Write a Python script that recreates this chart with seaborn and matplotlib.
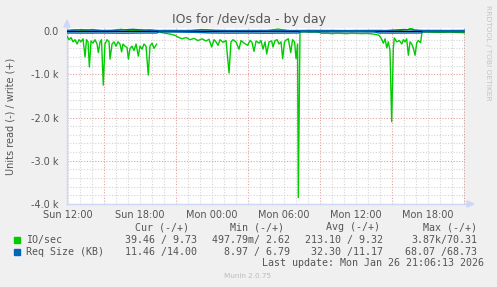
import numpy as np
import pandas as pd
import matplotlib
matplotlib.use("Agg")
import matplotlib.pyplot as plt
import matplotlib.dates as mdates
from matplotlib.patches import Rectangle, Polygon
import seaborn as sns

# ---------------- data (hours after Sun 25 Jan 2026 12:00) ----------------
read_io_hours = [-0.08, 0.08, 0.25, 0.42, 0.58, 0.75, 0.92, 1.08, 1.25, 1.42, 1.54, 1.67, 1.78, 1.92,
                 2.08, 2.25, 2.42, 2.53, 2.67, 2.79, 2.94, 3.08, 3.25, 3.42, 3.5, 3.67, 3.83, 4.0,
                 4.17, 4.33, 4.47, 4.58, 4.75, 4.92, 5.03, 5.17, 5.33, 5.5, 5.67, 5.86, 6.0, 6.17,
                 6.33, 6.5, 6.69, 6.83, 7.0, 7.17, 7.39, 7.5, 7.67, 8.08, 8.5, 8.92, 9.17, 9.5,
                 9.83, 10.17, 10.5, 10.83, 11.17, 11.5, 11.75, 11.97, 12.17, 12.33, 12.5, 12.67,
                 12.92, 13.17, 13.42, 13.58, 13.75, 14.0, 14.25, 14.42, 14.67, 14.97, 15.17, 15.33,
                 15.5, 15.67, 15.92, 16.08, 16.25, 16.42, 16.56, 16.75, 16.97, 17.08, 17.25, 17.42,
                 17.58, 17.75, 17.89, 18.04, 18.21, 18.36, 18.56, 18.71, 18.88, 19.0, 19.13, 19.19,
                 19.33, 19.75, 20.17, 20.58, 20.92, 21.17, 21.58, 22.0, 22.42, 22.83, 23.25, 23.67,
                 24.08, 24.5, 24.92, 25.33, 25.67, 25.92, 26.08, 26.28, 26.42, 26.56, 26.69, 26.83,
                 26.97, 27.11, 27.19, 27.39, 27.61, 27.81, 27.94, 28.08, 28.22, 28.36, 28.5, 28.64,
                 28.78, 28.92, 29.06, 29.19, 29.38, 29.5, 30.17, 31.0, 31.83, 32.67, 33.08]
read_io = [-120, -200, -150, -250, -200, -300, -200, -250, -180, -600, -200, -250, -830, -230,
           -280, -200, -300, -500, -250, -200, -1250, -300, -200, -250, -650, -300, -250, -350,
           -250, -300, -480, -300, -350, -380, -650, -400, -350, -450, -300, -580, -350, -420,
           -300, -350, -1020, -350, -280, -400, -300, np.nan, -30, -50, -70, -100, -140, -180,
           -150, -200, -170, -220, -180, -230, -190, -370, -200, -250, -330, -200,
           -260, -220, -970, -250, -200, -250, -420, -220, -280, -330, -220, -260,
           -470, -230, -280, -220, -420, -250, -530, -250, -230, -370, -220, -200,
           -300, -250, -640, -250, -200, -180, -500, -200, -250, -640, -300, -3850,
           -20, -15, -25, -20, -30, -55, -50, -60, -50, -55, -60, -50,
           -55, -60, -55, -65, -80, -100, -160, -280, -180, -390, -250, -450,
           -2095, -400, -160, -250, -220, -300, -200, -250, -180, -560, -250, -300,
           -400, -560, -270, -220, -270, -20, -25, -30, -25, -35, -40]

write_io_hours = [-0.08, 0.6, 1.4, 2.0, 2.9, 3.6, 4.4, 5.2, 6.0, 6.8, 7.6, 8.5, 9.4, 10.3, 11.2,
                  12.1, 13.0, 13.9, 14.8, 15.7, 16.6, 17.5, 18.4, 19.3, 20.2, 21.1, 22.0, 22.9,
                  23.8, 24.7, 25.6, 26.5, 27.4, 28.3, 28.6, 28.9, 29.8, 30.7, 31.6, 32.5, 33.08]
write_io = [8, 30, 10, 35, 9, 12, 40, 8, 10, 30, 9, 11, 8, 10, 35,
            9, 12, 8, 10, 9, 11, 45, 9, 8, 10, 9, 11, 8,
            10, 9, 12, 9, 11, 30, 70, 10, 9, 12, 8, 10, 10]

read_size_hours = [-0.08, 1.5, 3.0, 4.5, 6.0, 7.4, 7.6, 9.0, 10.5, 12.0, 13.5, 15.0, 16.5, 18.0,
                   19.2, 19.4, 21.0, 22.5, 24.0, 25.5, 25.9, 27.0, 28.5, 29.4, 29.6, 31.0, 32.5, 33.08]
read_size = [-45, -48, -46, -50, -47, -45, -20, -22, -30, -45, -48, -46, -50, -47,
             -45, -15, -18, -16, -15, -18, -45, -48, -46, -45, -15, -12, -14, -11]

write_size_hours = [-0.08, 1.2, 2.6, 4.0, 5.4, 7.0, 8.5, 10.0, 11.5, 13.0, 14.5, 16.0, 17.5,
                    19.0, 20.5, 22.0, 23.5, 25.0, 26.5, 28.0, 29.5, 31.0, 32.5, 33.08]
write_size = [12, 30, 12, 14, 40, 11, 13, 12, 25, 11, 12, 13, 11,
              12, 14, 12, 11, 13, 12, 35, 14, 12, 13, 14]

x_tick_hours = [0, 6, 12, 18, 24, 30]
y_ticks = [0, -1000, -2000, -3000, -4000]
y_tick_labels = ["0.0", "-1.0 k", "-2.0 k", "-3.0 k", "-4.0 k"]

legend_header = ["Cur (-/+)", "Min (-/+)", "Avg (-/+)", "Max (-/+)"]
legend_names = ["IO/sec", "Req Size (KB)"]
legend_values = [["39.46 / 9.73", "497.79m/ 2.62", "213.10 / 9.32", "3.87k/70.31"],
                 ["11.46 /14.00", "8.97 / 6.79", "32.30 /11.17", "68.07 /68.73"]]
title = "IOs for /dev/sda - by day"
ylabel = "Units read (-) / write (+)"
last_update = "Last update: Mon Jan 26 21:06:13 2026"

# ---------------- style ----------------
sns.set_theme(style="white")
plt.rcParams['font.family'] = ['DejaVu Sans']
GREEN = "#00CC00"
BLUE = "#0066B3"
FONT = "#555555"
W, H = 497, 287

start = pd.Timestamp("2026-01-25 12:00")
def to_time(h):
    return start + pd.to_timedelta(np.asarray(h, dtype=float), unit="h")

def frame(hours, vals):
    v = np.asarray(vals, dtype=float)
    seg = np.cumsum(np.isnan(v))
    df = pd.DataFrame({"time": to_time(hours), "value": v, "seg": seg})
    return df.dropna()

fig = plt.figure(figsize=(W / 100, H / 100), dpi=100, facecolor="#F0F0F0")
ax = fig.add_axes([67 / W, 1 - 204 / H, 398 / W, 176 / H])
ax.set_facecolor("white")

x0 = to_time([-1 / 12])[0]
x1 = to_time([33.08])[0]
ax.set_xlim(x0, x1)
ax.set_ylim(-4000, 70.31)

# grid
for h in np.arange(0, 34, 1):
    col = "#E2A0A0" if h % 6 == 3 else "#D4D4D4"
    ax.axvline(to_time([h])[0], color=col, lw=0.8, ls=(0, (1, 1.5)), zorder=0)
for yv in np.arange(-4000, 1, 200):
    col = "#E2A0A0" if yv % 1000 == 0 else "#D4D4D4"
    ax.axhline(yv, color=col, lw=0.8, ls=(0, (1, 1.5)), zorder=0)

# data
kw = dict(x="time", y="value", units="seg", estimator=None, sort=False, legend=False, ax=ax)
sns.lineplot(data=frame(read_io_hours, read_io), color=GREEN, lw=1.0, zorder=3, **kw)
sns.lineplot(data=frame(write_io_hours, write_io), color=GREEN, lw=1.0, zorder=3, **kw)
ax.axhline(0, color="black", lw=1.0, zorder=4)
sns.lineplot(data=frame(read_size_hours, read_size), color=BLUE, lw=1.0, zorder=5, **kw)
sns.lineplot(data=frame(write_size_hours, write_size), color=BLUE, lw=1.0, zorder=5, **kw)
ax.axvline(x1, color="#A0A0A0", lw=1.0, zorder=6)

# axes
ax.set_xticks(to_time(x_tick_hours))
ax.xaxis.set_major_formatter(mdates.DateFormatter("%a %H:%M"))
ax.set_yticks(y_ticks)
ax.set_yticklabels(y_tick_labels)
ax.tick_params(axis="y", labelsize=7, colors=FONT, length=2, width=0.8, pad=4, color="#CFD6F8")
ax.tick_params(axis="x", labelsize=7, colors=FONT, length=0, pad=4.5)
ax.set_xlabel("")
ax.set_ylabel("")
for s in ["top", "right"]:
    ax.spines[s].set_visible(False)
for s in ["left", "bottom"]:
    ax.spines[s].set_color("#CFD6F8")
    ax.spines[s].set_linewidth(1.0)

def fx(x): return x / W
def fy(y): return 1 - y / H

# arrows
fig.patches.append(Polygon([[fx(64), fy(27)], [fx(70), fy(27)], [fx(67), fy(20)]], closed=True,
                           transform=fig.transFigure, color="#CFD6F8", zorder=10))
fig.patches.append(Polygon([[fx(467), fy(201)], [fx(467), fy(207)], [fx(474), fy(204)]], closed=True,
                           transform=fig.transFigure, color="#CFD6F8", zorder=10))

fig.text(fx(249), fy(19), title, ha="center", va="center", fontsize=9, color=FONT)
fig.text(fx(11), fy(116), ylabel, ha="center", va="center", rotation=90, fontsize=7, color=FONT)
fig.text(fx(488), fy(53), "RRDTOOL / TOBI OETIKER", ha="center", va="center", rotation=270,
         fontsize=5.4, color="#C4C4C4")
fig.text(fx(248), fy(276), "Munin 2.0.75", ha="center", va="center", fontsize=5.2, color="#BBBBBB")

mono = dict(family="DejaVu Sans Mono", fontsize=7.2, color=FONT, va="center")
head_right = [189, 284, 380, 477]
val_right = [197, 290, 383, 477]
for t, xr in zip(legend_header, head_right):
    fig.text(fx(xr), fy(227), t, ha="right", **mono)
for i, (name, col) in enumerate(zip(legend_names, [GREEN, BLUE])):
    yy = 240 + 12 * i
    fig.patches.append(Rectangle((fx(14), fy(yy + 3)), 6 / W, 6 / H, transform=fig.transFigure,
                                 color=col, zorder=10))
    fig.text(fx(26), fy(yy), name, ha="left", **mono)
    for t, xr in zip(legend_values[i], val_right):
        fig.text(fx(xr), fy(yy), t, ha="right", **mono)
fig.text(fx(484), fy(263), last_update, ha="right", **mono)

fig.savefig("out.png", dpi=100, facecolor=fig.get_facecolor())
